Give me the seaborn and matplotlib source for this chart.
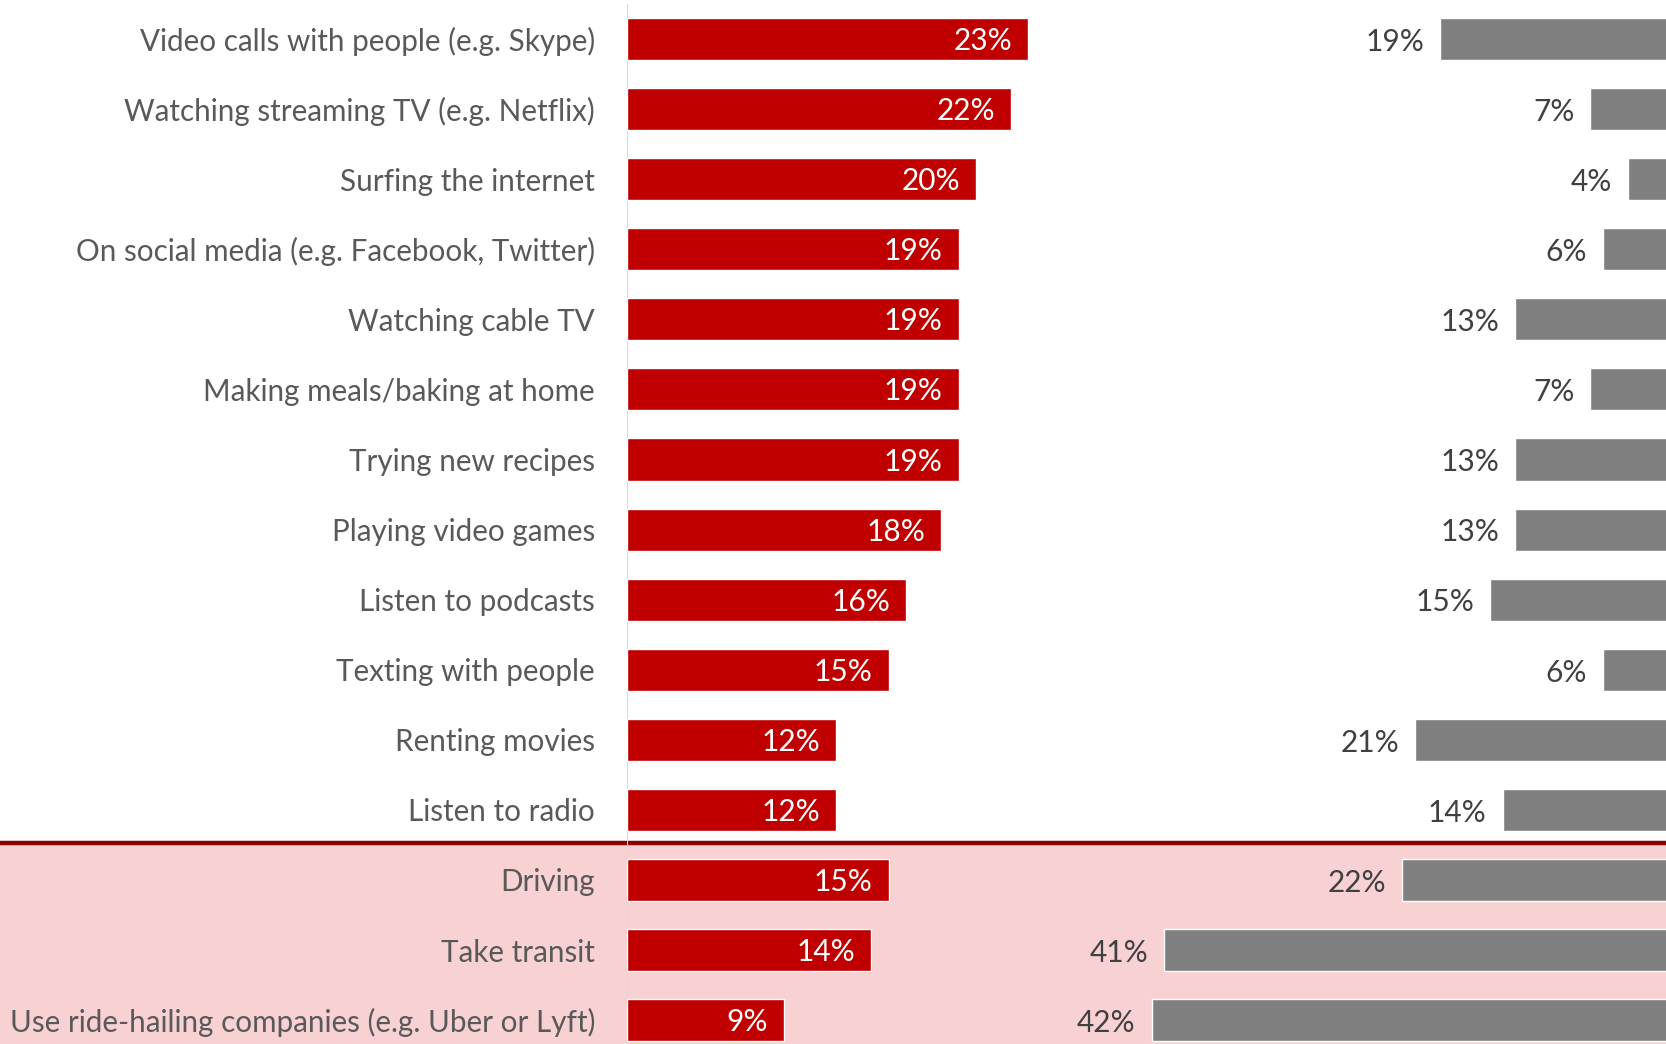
import matplotlib
matplotlib.use("Agg")
import matplotlib.pyplot as plt
import matplotlib.transforms as mtransforms
from matplotlib.patches import Rectangle
import seaborn as sns
import pandas as pd

activities = [
    "Video calls with people (e.g. Skype)",
    "Watching streaming TV (e.g. Netflix)",
    "Surfing the internet",
    "On social media (e.g. Facebook, Twitter)",
    "Watching cable TV",
    "Making meals/baking at home",
    "Trying new recipes",
    "Playing video games",
    "Listen to podcasts",
    "Texting with people",
    "Renting movies",
    "Listen to radio",
    "Driving",
    "Take transit",
    "Use ride-hailing companies (e.g. Uber or Lyft)",
]
more_pct = [23, 22, 20, 19, 19, 19, 19, 18, 16, 15, 12, 12, 15, 14, 9]
less_pct = [19, 7, 4, 6, 13, 7, 13, 13, 15, 6, 21, 14, 22, 41, 42]

df = pd.DataFrame({"activity": activities, "more": more_pct, "less": less_pct})

sns.set_theme(style="white")
plt.rcParams["font.family"] = ["Lato", "DejaVu Sans"]

W, H = 1666, 1044
fig = plt.figure(figsize=(W / 100, H / 100), dpi=100)
fig.patch.set_facecolor("white")

RED = "#C00000"
GREY = "#7F7F7F"
LABEL = "#595959"
FS = 21.3
VFS = 21.5

y_lo, y_hi = 14.34, -0.556

# left panel: red bars
x0 = 627
red_scale = 17.45
ax1 = fig.add_axes([x0 / W, 0, 25 * red_scale / W, 1])
sns.barplot(data=df, x="more", y="activity", orient="h", color=RED,
            width=0.6, saturation=1, ax=ax1, zorder=2)
ax1.set_xlim(0, 25)
ax1.set_ylim(y_lo, y_hi)
ax1.patch.set_alpha(0)
for s in ax1.spines.values():
    s.set_visible(False)
ax1.set_xlabel("")
ax1.set_ylabel("")
ax1.set_xticks([])
ax1.tick_params(axis="y", length=0, pad=23, labelsize=FS, labelcolor=LABEL)
ax1.vlines(0, -0.5, 15, color="#D9D9D9", lw=1.5, zorder=1)
for i, v in enumerate(more_pct):
    ax1.annotate(f"{v}%", xy=(v, i), xytext=(-11.5, -1.5), textcoords="offset points",
                 ha="right", va="center", color="white", fontsize=VFS, zorder=3)

# right panel: grey bars growing leftwards from the right edge
grey_scale = 12.53
zero_px = 1678
ax2 = fig.add_axes([(zero_px - 50 * grey_scale) / W, 0, 50 * grey_scale / W, 1])
sns.barplot(data=df, x="less", y="activity", orient="h", color=GREY,
            width=0.6, saturation=1, ax=ax2, zorder=2)
ax2.set_xlim(50, 0)
ax2.set_ylim(y_lo, y_hi)
ax2.patch.set_alpha(0)
for s in ax2.spines.values():
    s.set_visible(False)
ax2.set_xlabel("")
ax2.set_ylabel("")
ax2.set_xticks([])
ax2.set_yticks([])
for i, v in enumerate(less_pct):
    ax2.annotate(f"{v}%", xy=(v, i), xytext=(-11.5, -2), textcoords="offset points",
                 ha="right", va="center", color="#404040", fontsize=VFS, zorder=3)

# shaded group for transport-related activities
trans = mtransforms.blended_transform_factory(fig.transFigure, ax1.transData)
fig.patches.append(Rectangle((0, 11.5), 1, 3.5, transform=trans,
                             facecolor="#F8D1D3", edgecolor="none", zorder=-2))
fig.lines.append(plt.Line2D([0, 1], [11.47, 11.47], transform=trans,
                            color="#8B0000", lw=3.2, zorder=-1))

fig.savefig("out.png", dpi=100)
